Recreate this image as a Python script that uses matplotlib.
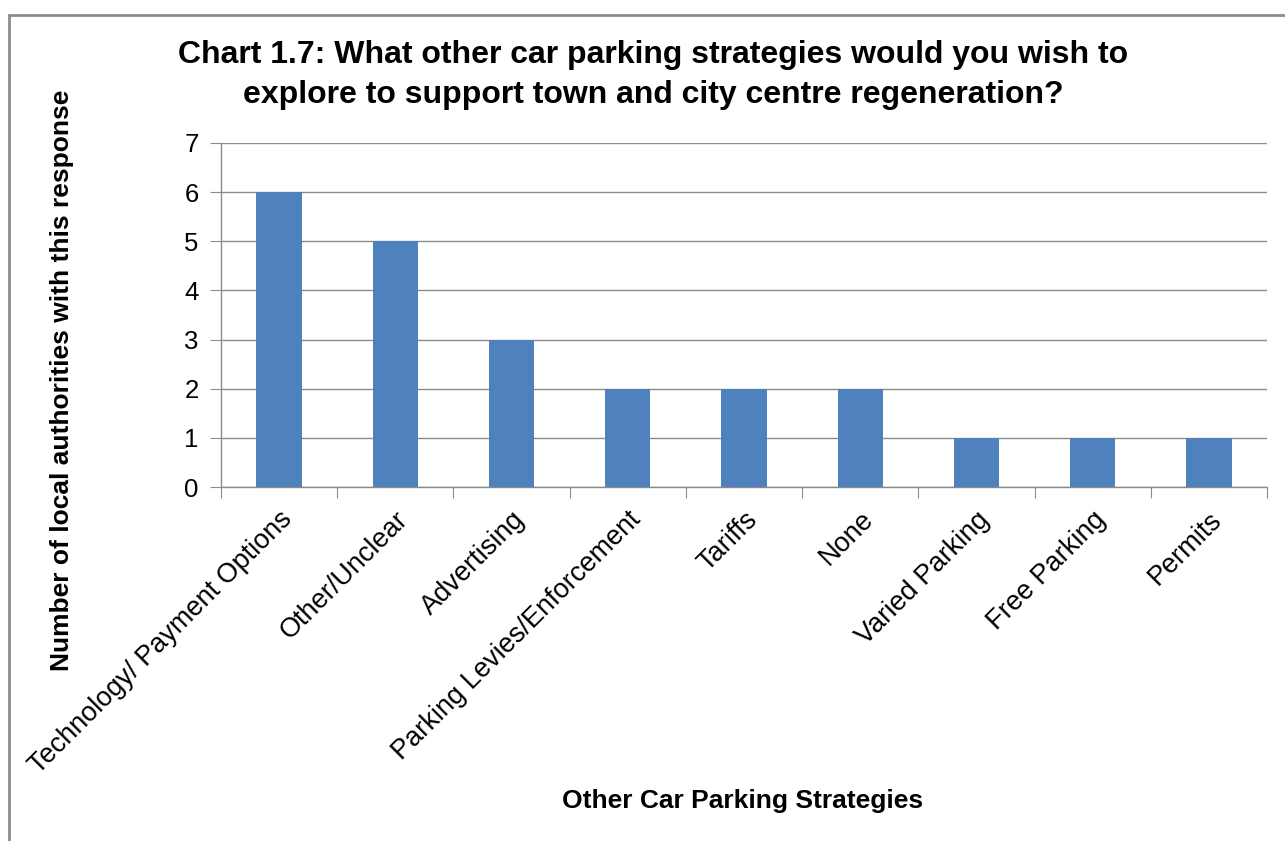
import matplotlib.pyplot as plt
from matplotlib.patches import Rectangle

strategies = ['Technology/ Payment Options', 'Other/Unclear', 'Advertising',
              'Parking Levies/Enforcement', 'Tariffs', 'None', 'Varied Parking',
              'Free Parking', 'Permits']
counts = [6, 5, 3, 2, 2, 2, 1, 1, 1]
y_ticks = [0, 1, 2, 3, 4, 5, 6, 7]

plt.rcParams['font.family'] = ['Liberation Sans', 'DejaVu Sans']

fig = plt.figure(figsize=(12.85, 8.41), dpi=100)
W, H = 1285, 841

# grey frame around the whole chart
fig.patches.append(Rectangle((9 / W, -0.1), 1.2, 1 - 15 / H + 0.1,
                             transform=fig.transFigure, fill=False,
                             edgecolor='#8c8c8c', linewidth=2))

ax = fig.add_axes([221 / W, 1 - 487 / H, (1267 - 221) / W, (487 - 143) / H])

x = range(len(strategies))
ax.bar(x, counts, width=0.39, color='#4F81BD', zorder=3)

ax.set_xlim(-0.5, len(strategies) - 0.5)
ax.set_ylim(0, 7)
ax.set_yticks(y_ticks)
ax.yaxis.grid(True, color='#8c8c8c', linewidth=1, zorder=0)

for s in ['top', 'right']:
    ax.spines[s].set_visible(False)
for s in ['left', 'bottom']:
    ax.spines[s].set_color('#8c8c8c')
    ax.spines[s].set_linewidth(1)

ax.set_xticks([i - 0.5 for i in range(len(strategies) + 1)], minor=False)
ax.set_xticklabels([''] * (len(strategies) + 1))
ax.set_xticks(list(x), minor=True)
ax.set_xticklabels(strategies, minor=True, rotation=45, ha='right',
                   rotation_mode='anchor', fontsize=19.5)
ax.tick_params(axis='x', which='major', length=8, color='#8c8c8c')
ax.tick_params(axis='x', which='minor', length=0, pad=14)
ax.tick_params(axis='y', length=8, color='#8c8c8c', labelsize=18.5, pad=8)

fig.text(653 / W, 1 - 75 / H,
         'Chart 1.7: What other car parking strategies would you wish to\n'
         'explore to support town and city centre regeneration?',
         ha='center', va='center', fontsize=23, fontweight='bold',
         linespacing=1.45)
fig.text(62 / W, 1 - 380 / H, 'Number of local authorities with this response',
         rotation=90, ha='center', va='center', fontsize=19, fontweight='bold')
fig.text(743 / W, 1 - 801 / H, 'Other Car Parking Strategies',
         ha='center', va='center', fontsize=19, fontweight='bold')

fig.savefig('out.png', dpi=100)
